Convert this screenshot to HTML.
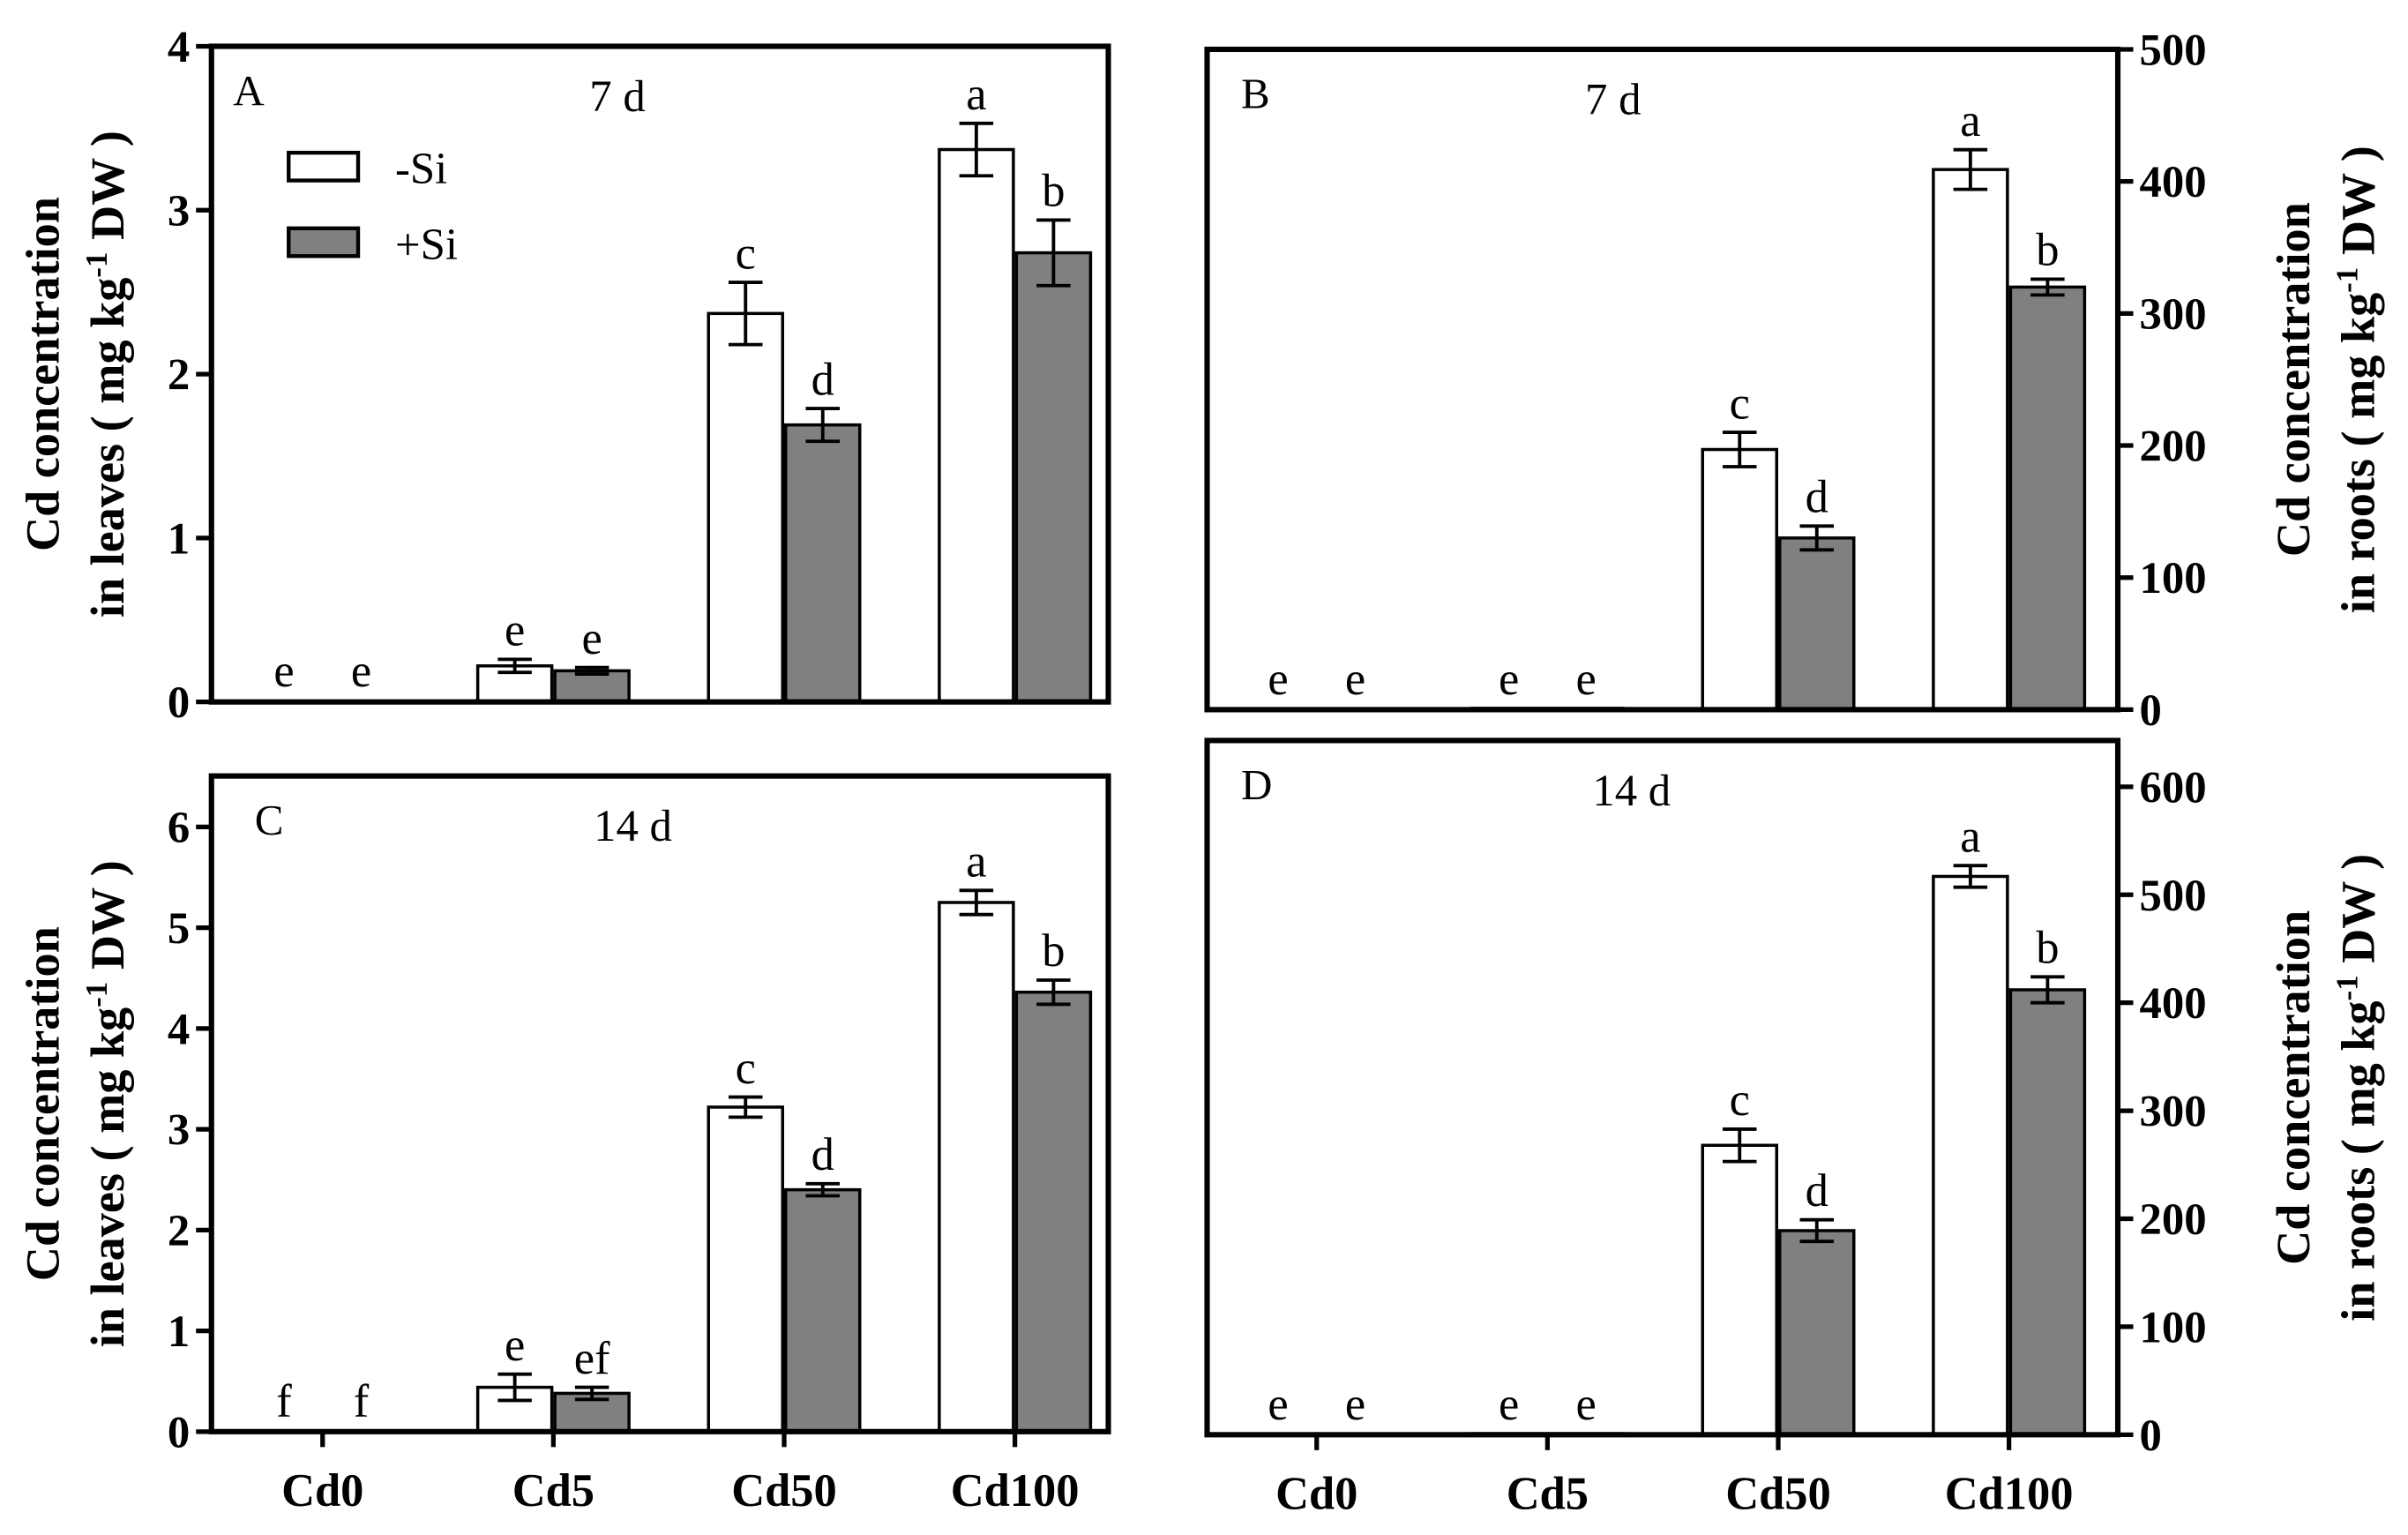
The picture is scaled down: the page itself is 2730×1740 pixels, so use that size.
<!DOCTYPE html>
<html><head><meta charset="utf-8"><style>
html,body{margin:0;padding:0;background:#fff}
svg{display:block}
text{font-family:"Liberation Serif",serif;fill:#000}
</style></head><body>
<svg id="fig" width="2730" height="1740" viewBox="0 0 1560 995" preserveAspectRatio="none" xmlns="http://www.w3.org/2000/svg"></svg>
<script>
const categories = ["Cd0","Cd5","Cd50","Cd100"];
const aNoSi = [0,0.22,2.37,3.37], aNoSiErr=[0,0.04,0.19,0.16];
const aSi = [0,0.19,1.69,2.74], aSiErr=[0,0.02,0.10,0.20];
const aLettersNo=["e","e","c","a"], aLettersSi=["e","e","d","b"];
const aTicks=[0,1,2,3,4];
const bNoSi=[0,1,197,409], bNoSiErr=[0,0,13,15];
const bSi=[0,1,130,320], bSiErr=[0,0,9,6];
const bLettersNo=["e","e","c","a"], bLettersSi=["e","e","d","b"];
const bTicks=[0,100,200,300,400,500];
const cNoSi=[0,0.44,3.22,5.25], cNoSiErr=[0,0.13,0.10,0.12];
const cSi=[0,0.38,2.40,4.36], cSiErr=[0,0.06,0.06,0.12];
const cLettersNo=["f","e","c","a"], cLettersSi=["f","ef","d","b"];
const cTicks=[0,1,2,3,4,5,6];
const dNoSi=[0,1,268,517], dNoSiErr=[0,0,15,10];
const dSi=[0,1,189,412], dSiErr=[0,0,10,12];
const dLettersNo=["e","e","c","a"], dLettersSi=["e","e","d","b"];
const dTicks=[0,100,200,300,400,500,600];

const NS="http://www.w3.org/2000/svg";
const svg=document.getElementById('fig');
function mk(tag,attrs,parent){const e=document.createElementNS(NS,tag);for(const k in attrs)e.setAttribute(k,attrs[k]);(parent||svg).appendChild(e);return e;}
function txt(s,attrs,parent){const e=mk('text',attrs,parent);e.textContent=s;return e;}

function panel(p){
  const g=mk('g',{});
  
  
  const y=v=>p.y0-(v-0)*(p.y0-p.yTopTick)/p.vmax;
  const x0=p.left+p.x0off, step=149.5, bw=48;
  const xc=i=>x0+i*step;
  const series=[[p.no,p.noErr,p.lno,'#fff',-1],[p.si,p.siErr,p.lsi,'#808080',1]];
  series.forEach((s,si)=>{
    s[0].forEach((v,i)=>{
      const bx=s[4]<0?xc(i)-bw-1:xc(i)+1;
      if(v>0){
        const r=mk('rect',{x:bx,y:y(v),width:bw,height:p.y0-y(v),fill:s[3],stroke:'#000','stroke-width':2},g);
        
        
      }
      const e=s[1][i], cx=bx+bw/2;
      if(e>0){
        const eg=mk('g',{stroke:'#000','stroke-width':2.2},g);
        
        
        mk('line',{x1:cx,x2:cx,y1:y(v+e),y2:y(v-e)},eg);
        mk('line',{x1:cx-11,x2:cx+11,y1:y(v+e),y2:y(v+e)},eg);
        mk('line',{x1:cx-11,x2:cx+11,y1:y(v-e),y2:y(v-e)},eg);
      }
      const lt=txt(s[2][i],{x:cx,y:Math.min(y(v+e)-9,p.y0-10),'font-size':30,'text-anchor':'middle'},g);
      
      
    });
  });
  const box=mk('rect',{x:p.left,y:p.top,width:p.right-p.left,height:p.y0-p.top,fill:'none',stroke:'#000','stroke-width':3.5},g);
  
  
  const ax=p.side==='left'?p.left:p.right, dir=p.side==='left'?-1:1;
  p.ticks.forEach(t=>{
    mk('line',{x1:ax,x2:ax+dir*10,y1:y(t),y2:y(t),stroke:'#000','stroke-width':3},g);
    const tl=txt(String(t),{x:ax+dir*14,y:y(t)+10,'font-size':29,'font-weight':'bold','text-anchor':p.side==='left'?'end':'start'},g);
    
    
  });
  if(p.xlabels){
    categories.forEach((c,i)=>{
      mk('line',{x1:xc(i),x2:xc(i),y1:p.y0,y2:p.y0+10,stroke:'#000','stroke-width':3},g);
      const xl=txt(c,{x:xc(i),y:p.y0+48,'font-size':30,'font-weight':'bold','text-anchor':'middle'},g);
      
      
    });
  }
  const pl=txt(p.id,{x:p.left+p.lblDx,y:p.top+38,'font-size':28},g);
  
  
  const dl=txt(p.day,{x:p.dayX,y:p.top+42,'font-size':29,'text-anchor':'middle'},g);
  
  
  const cy=(p.top+p.y0)/2;
  const tx1=p.side==='left'?38:1496, tx2=p.side==='left'?80:1538;
  const tg=mk('g',{'font-size':31,'font-weight':'bold','text-anchor':'middle'},g);
  
  
  txt('Cd concentration',{transform:`translate(${tx1},${cy}) rotate(-90)`},tg);
  const t2=mk('text',{transform:`translate(${tx2},${cy}) rotate(-90)`},tg);
  t2.innerHTML=`in ${p.organ} ( mg kg<tspan dy="-11" font-size="20">-1</tspan><tspan dy="11"> DW )</tspan>`;
}

panel({id:'A',day:'7 d',dayX:400,left:137,right:718,top:30,y0:455,yTopTick:30,vmax:4,ticks:aTicks,side:'left',x0off:72,no:aNoSi,noErr:aNoSiErr,si:aSi,siErr:aSiErr,lno:aLettersNo,lsi:aLettersSi,lblDx:14,organ:'leaves'});
panel({id:'B',day:'7 d',dayX:1045,left:782,right:1372,top:32,y0:460,yTopTick:32,vmax:500,ticks:bTicks,side:'right',x0off:71,no:bNoSi,noErr:bNoSiErr,si:bSi,siErr:bSiErr,lno:bLettersNo,lsi:bLettersSi,lblDx:22,organ:'roots'});
panel({id:'C',day:'14 d',dayX:410,left:137,right:718,top:503,y0:928,yTopTick:536,vmax:6,ticks:cTicks,side:'left',x0off:72,no:cNoSi,noErr:cNoSiErr,si:cSi,siErr:cSiErr,lno:cLettersNo,lsi:cLettersSi,lblDx:28,organ:'leaves',xlabels:true});
panel({id:'D',day:'14 d',dayX:1057,left:782,right:1372,top:480,y0:930,yTopTick:510,vmax:600,ticks:dTicks,side:'right',x0off:71,no:dNoSi,noErr:dNoSiErr,si:dSi,siErr:dSiErr,lno:dLettersNo,lsi:dLettersSi,lblDx:22,organ:'roots',xlabels:true});

const lg=mk('g',{});


mk('rect',{x:187,y:99,width:45,height:18,fill:'#fff',stroke:'#000','stroke-width':2.5},lg);
txt('-Si',{x:256,y:119,'font-size':29},lg);
mk('rect',{x:187,y:148,width:45,height:18,fill:'#808080',stroke:'#000','stroke-width':2.5},lg);
txt('+Si',{x:256,y:168,'font-size':29},lg);
</script>
</body></html>
